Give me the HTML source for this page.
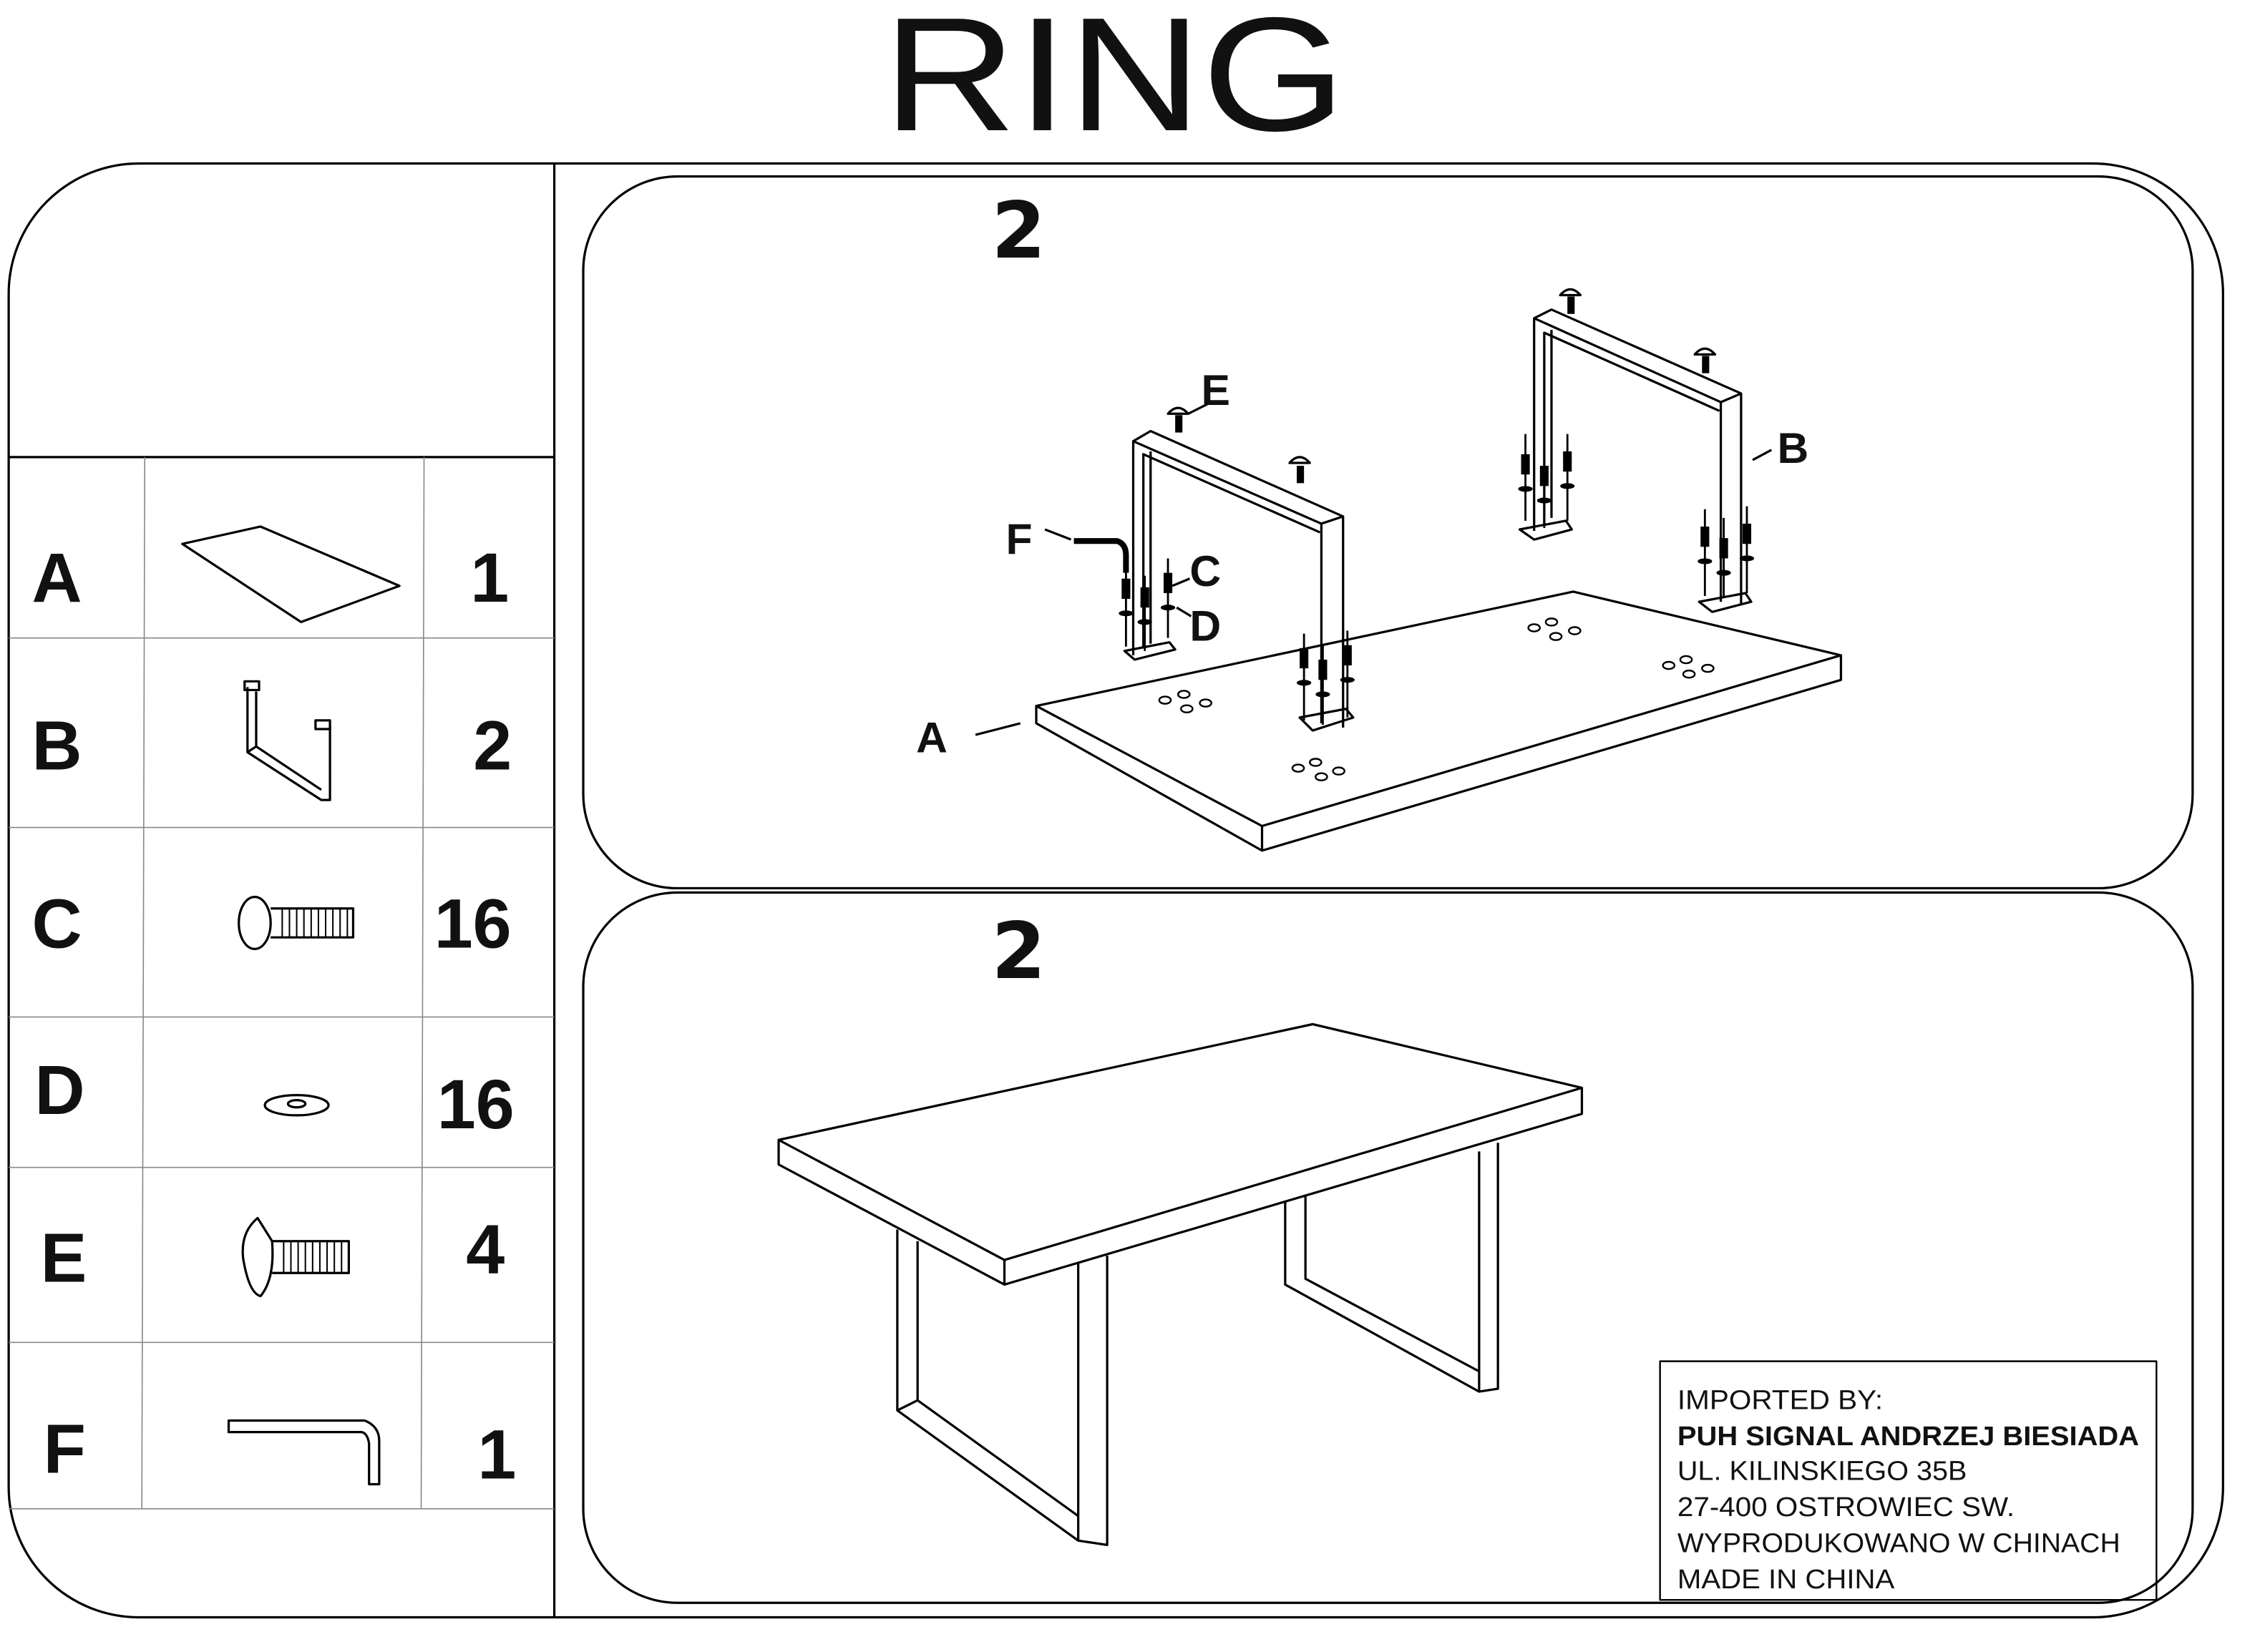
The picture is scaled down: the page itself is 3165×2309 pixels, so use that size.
<!DOCTYPE html>
<html><head><meta charset="utf-8"><style>
html,body{margin:0;padding:0;background:#fff}
svg{display:block}
text{font-family:"Liberation Sans",sans-serif}
.b{font-weight:bold;font-family:"DejaVu Sans","Liberation Sans",sans-serif}
</style></head><body>
<svg width="3165" height="2309" viewBox="0 0 1565 1142" preserveAspectRatio="none" xmlns="http://www.w3.org/2000/svg">
<g fill="none" stroke="#000" stroke-width="1.6" stroke-linejoin="round">
<text x="770" y="90" font-size="112" text-anchor="middle" fill="#111" stroke="none" textLength="320" lengthAdjust="spacingAndGlyphs">RING</text>
<rect x="6" y="113" width="1530" height="1005" rx="90"/>
<line x1="383" y1="113" x2="383" y2="1118"/>
<line x1="6" y1="316" x2="383" y2="316"/>
<g stroke="#888" stroke-width="0.8">
<line x1="6" y1="441" x2="383" y2="441"/><line x1="6" y1="572" x2="383" y2="572"/>
<line x1="6" y1="703" x2="383" y2="703"/><line x1="6" y1="807" x2="383" y2="807"/>
<line x1="6" y1="928" x2="383" y2="928"/><line x1="6" y1="1043" x2="383" y2="1043"/>
<line x1="100" y1="316" x2="98" y2="1043"/><line x1="293" y1="316" x2="291" y2="1043"/>
</g>
<g class="b" font-size="48" fill="#111" stroke="none">
<text x="22" y="416">A</text><text x="22" y="532">B</text><text x="22" y="655">C</text>
<text x="24" y="770">D</text><text x="28" y="886">E</text><text x="30" y="1018">F</text>
<text x="325" y="416">1</text><text x="327" y="532">2</text><text x="300" y="655">16</text>
<text x="302" y="780">16</text><text x="322" y="880">4</text><text x="330" y="1022">1</text>
</g>
<polygon points="126,376 180,364 276,405 208,430"/>
<path d="M171,475 L171,520 L222,553 L228,553 L228,502 M177,478 L177,516 L222,546 M171,520 L177,516"/>
<rect x="169" y="471" width="10" height="6"/><rect x="218" y="498" width="10" height="6"/>
<ellipse cx="176" cy="638" rx="11" ry="18"/><path d="M187,628 L244,628 L244,648 L187,648"/>
<g stroke-width="1"><path d="M195,628v20M200,628v20M205,628v20M210,628v20M215,628v20M220,628v20M225,628v20M230,628v20M235,628v20M240,628v20"/></g>
<ellipse cx="205" cy="764" rx="22" ry="7"/><ellipse cx="205" cy="763" rx="6" ry="2.5"/>
<path d="M178,842 Q166,852 168,870 Q172,894 180,896 Q190,884 188,858 Z"/><path d="M188,858 L241,858 L241,880 L188,880"/>
<g stroke-width="1"><path d="M196,858v22M201,858v22M206,858v22M211,858v22M216,858v22M221,858v22M226,858v22M231,858v22M236,858v22"/></g>
<path d="M158,982 L252,982 Q262,986 262,996 L262,1026 L255,1026 L255,998 Q254,991 250,990 L158,990 Z"/>
<rect x="403" y="122" width="1112" height="492" rx="65"/>
<rect x="403" y="617" width="1112" height="491" rx="65"/>
<text x="685" y="178" class="b" font-size="54" fill="#111" stroke="none">2</text>
<text x="685" y="676" class="b" font-size="54" fill="#111" stroke="none">2</text>
<polygon points="716,488 1087,409 1272,453 872,571"/>
<path d="M716,488 L716,500 L872,588 L1272,470 L1272,453 M872,571 L872,588"/>
<g stroke-width="1.2">
<ellipse cx="805" cy="484" rx="4" ry="2.5"/><ellipse cx="818" cy="480" rx="4" ry="2.5"/><ellipse cx="833" cy="486" rx="4" ry="2.5"/><ellipse cx="820" cy="490" rx="4" ry="2.5"/>
<ellipse cx="1060" cy="434" rx="4" ry="2.5"/><ellipse cx="1072" cy="430" rx="4" ry="2.5"/><ellipse cx="1088" cy="436" rx="4" ry="2.5"/><ellipse cx="1075" cy="440" rx="4" ry="2.5"/>
<ellipse cx="1153" cy="460" rx="4" ry="2.5"/><ellipse cx="1165" cy="456" rx="4" ry="2.5"/><ellipse cx="1180" cy="462" rx="4" ry="2.5"/><ellipse cx="1167" cy="466" rx="4" ry="2.5"/>
<ellipse cx="897" cy="531" rx="4" ry="2.5"/><ellipse cx="909" cy="527" rx="4" ry="2.5"/><ellipse cx="925" cy="533" rx="4" ry="2.5"/><ellipse cx="913" cy="537" rx="4" ry="2.5"/>
</g>
<path d="M783,453 L783,305 L795,298 L928,357 L928,503 M783,305 L913,362 L928,357 M913,362 L913,500 M790,448 L790,314 L912,368 M795,312 L795,445"/>
<path d="M777,450 L808,444 L812,449 L784,456 Z M898,496 L930,490 L935,496 L907,505 Z"/>
<path d="M1060,367 L1060,220 L1072,214 L1203,272 L1203,418 M1060,220 L1189,278 L1203,272 M1189,278 L1189,416 M1067,362 L1067,230 L1188,284 M1072,228 L1072,358"/>
<path d="M1050,366 L1082,360 L1086,366 L1060,373 Z M1174,416 L1206,410 L1210,416 L1183,423 Z"/>
<g stroke-width="1.4">
<path d="M778,392v55M791,398v52M807,386v55M901,438v60M914,446v55M931,436v60M1054,300v60M1067,310v55M1083,300v60M1178,352v60M1191,358v55M1207,350v60"/>
</g>
<g fill="#000" stroke="none">
<rect x="775" y="400" width="6" height="14"/><rect x="788" y="406" width="6" height="14"/><rect x="804" y="396" width="6" height="14"/>
<rect x="898" y="448" width="6" height="14"/><rect x="911" y="456" width="6" height="14"/><rect x="928" y="446" width="6" height="14"/>
<rect x="1051" y="314" width="6" height="14"/><rect x="1064" y="322" width="6" height="14"/><rect x="1080" y="312" width="6" height="14"/>
<rect x="1175" y="364" width="6" height="14"/><rect x="1188" y="372" width="6" height="14"/><rect x="1204" y="362" width="6" height="14"/>
<ellipse cx="778" cy="424" rx="5" ry="2"/><ellipse cx="791" cy="430" rx="5" ry="2"/><ellipse cx="807" cy="420" rx="5" ry="2"/>
<ellipse cx="901" cy="472" rx="5" ry="2"/><ellipse cx="914" cy="480" rx="5" ry="2"/><ellipse cx="931" cy="470" rx="5" ry="2"/>
<ellipse cx="1054" cy="338" rx="5" ry="2"/><ellipse cx="1067" cy="346" rx="5" ry="2"/><ellipse cx="1083" cy="336" rx="5" ry="2"/>
<ellipse cx="1178" cy="388" rx="5" ry="2"/><ellipse cx="1191" cy="396" rx="5" ry="2"/><ellipse cx="1207" cy="386" rx="5" ry="2"/>
<rect x="812" y="287" width="5" height="12"/><rect x="896" y="322" width="5" height="12"/><rect x="1083" y="205" width="5" height="12"/><rect x="1176" y="246" width="5" height="12"/>
</g>
<path d="M807,286 Q814,278 821,286 Z M891,320 Q898,312 905,320 Z M1078,204 Q1085,196 1092,204 Z M1171,245 Q1178,237 1185,245 Z"/>
<path d="M742,374 L772,374 Q778,376 778,384 L778,396" stroke-width="4"/>
<path d="M722,366 L740,373 M821,286 L837,278 M810,405 L822,400 M813,420 L823,426 M1211,318 L1224,311 M674,508 L705,500"/>
<g class="b" font-size="30" fill="#111" stroke="none">
<text x="695" y="383">F</text><text x="830" y="280">E</text><text x="822" y="405">C</text><text x="822" y="443">D</text><text x="1228" y="320">B</text><text x="633" y="520">A</text>
</g>
<polygon points="538,788 907,708 1093,752 694,871"/>
<path d="M538,788 L538,805 L694,888 L1093,770 L1093,752 M694,871 L694,888"/>
<path d="M620,850 L620,975 L745,1065 L765,1068 L765,868 M634,858 L634,968 L745,1048 M745,1048 L745,873 M620,975 L634,968 M745,1065 L745,1048"/>
<path d="M888,830 L888,888 L1022,962 L1035,960 L1035,790 M902,826 L902,884 L1022,948 L1022,796 M1022,962 L1022,948"/>
<rect x="1147" y="941" width="343" height="165" stroke-width="1.2"/>
<g font-size="19" fill="#111" stroke="none">
<text x="1159" y="974" textLength="142" lengthAdjust="spacingAndGlyphs">IMPORTED BY:</text>
<text x="1159" y="999" font-weight="bold" textLength="319" lengthAdjust="spacingAndGlyphs">PUH SIGNAL ANDRZEJ BIESIADA</text>
<text x="1159" y="1023" textLength="200" lengthAdjust="spacingAndGlyphs">UL. KILINSKIEGO 35B</text>
<text x="1159" y="1048" textLength="233" lengthAdjust="spacingAndGlyphs">27-400 OSTROWIEC SW.</text>
<text x="1159" y="1073" textLength="306" lengthAdjust="spacingAndGlyphs">WYPRODUKOWANO W CHINACH</text>
<text x="1159" y="1098" textLength="150" lengthAdjust="spacingAndGlyphs">MADE IN CHINA</text>
</g>
</g>
</svg>
</body></html>
